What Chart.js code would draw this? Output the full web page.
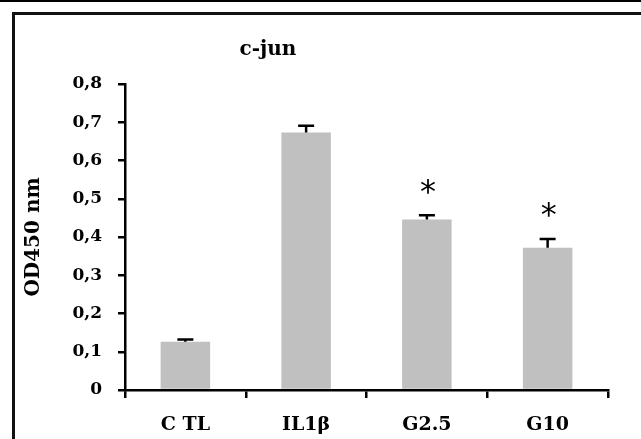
<!DOCTYPE html>
<html>
<head>
<meta charset="utf-8">
<script src="https://cdn.jsdelivr.net/npm/chart.js@4"></script>
<style>
  html, body { margin: 0; padding: 0; background: #fff; }
  #wrap { position: relative; width: 641px; height: 439px; overflow: hidden; }
  #topline { position: absolute; left: 0; top: 0; width: 641px; height: 2px; background: #000; }
  #frame { position: absolute; left: 12px; top: 12px; width: 700px; height: 500px;
           border-left: 3px solid #111; border-top: 3px solid #111; }
  canvas { position: absolute; left: 0; top: 0; }
</style>
</head>
<body>
<div id="wrap">
  <div id="topline"></div>
  <div id="frame"></div>
  <canvas id="c" width="641" height="439"></canvas>
</div>
<script>
const categories = ['C TL', 'IL1\u03b2', 'G2.5', 'G10'];
const values = [0.126, 0.673, 0.446, 0.372];
const errors = [0.006, 0.018, 0.011, 0.023];
const significance = ['', '', '*', '*'];
const yTickLabels = ['0', '0,1', '0,2', '0,3', '0,4', '0,5', '0,6', '0,7', '0,8'];
const chartTitle = 'c-jun';
const yAxisTitle = 'OD450 nm';

const SERIF = "'DejaVu Serif', 'Liberation Serif', serif";

const overlay = {
  id: 'overlay',
  afterDatasetsDraw(chart) {
    const ctx = chart.ctx;
    const meta = chart.getDatasetMeta(0);
    const ys = chart.scales.y;
    ctx.save();
    ctx.strokeStyle = '#000';
    ctx.lineWidth = 2.5;
    meta.data.forEach((bar, i) => {
      const top = ys.getPixelForValue(values[i] + errors[i]);
      const base = ys.getPixelForValue(values[i]);
      ctx.beginPath();
      ctx.moveTo(bar.x, base);
      ctx.lineTo(bar.x, top);
      ctx.moveTo(bar.x - 8, top);
      ctx.lineTo(bar.x + 8, top);
      ctx.stroke();
      if (significance[i]) {
        ctx.fillStyle = '#000';
        ctx.font = "32px 'DejaVu Sans', sans-serif";
        ctx.textAlign = 'center';
        ctx.textBaseline = 'middle';
        ctx.fillText(significance[i], bar.x + 1, top - 22);
      }
    });
    // chart title
    ctx.fillStyle = '#000';
    ctx.font = 'bold 20px ' + SERIF;
    ctx.textAlign = 'center';
    ctx.textBaseline = 'middle';
    ctx.fillText(chartTitle, 268, 50);
    ctx.restore();
  }
};

new Chart(document.getElementById('c'), {
  type: 'bar',
  data: {
    labels: categories,
    datasets: [{
      data: values,
      backgroundColor: '#c0c0c0',
      borderWidth: 0,
      barPercentage: 0.41,
      categoryPercentage: 1.0
    }]
  },
  options: {
    responsive: false,
    animation: false,
    devicePixelRatio: 1,
    layout: { padding: { top: 84, right: 33, bottom: 0, left: 0 } },
    plugins: {
      legend: { display: false },
      tooltip: { enabled: false },
      title: { display: false }
    },
    scales: {
      x: {
        grid: { display: true, drawOnChartArea: false, offset: true, tickLength: 8, color: '#000', lineWidth: 2.5 },
        border: { display: true, color: '#000', width: 2.5 },
        ticks: { color: '#000', font: { family: SERIF, size: 19, weight: 'bold' }, padding: 16, maxRotation: 0 },
        afterFit(scale) { scale.height = 49; }
      },
      y: {
        min: 0, max: 0.8,
        grid: { display: true, drawOnChartArea: false, tickLength: 7, color: '#000', lineWidth: 2.5 },
        border: { display: true, color: '#000', width: 2.5 },
        ticks: {
          stepSize: 0.1, color: '#000', padding: 16,
          font: { family: SERIF, size: 17, weight: 'bold' },
          callback: (v, i) => yTickLabels[i]
        },
        title: {
          display: true, text: yAxisTitle, color: '#000',
          font: { family: SERIF, size: 20, weight: 'bold' },
          padding: { top: 22, bottom: 0 }
        },
        afterFit(scale) { scale.width = 125; }
      }
    }
  },
  plugins: [overlay]
});
</script>
</body>
</html>
